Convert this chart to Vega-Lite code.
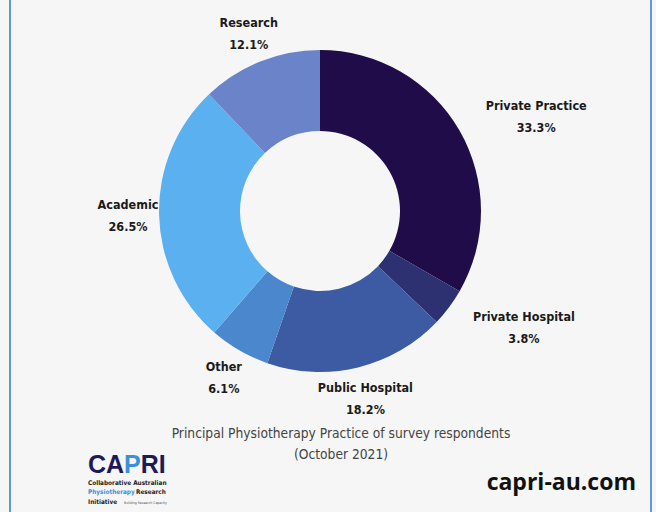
{
  "$schema": "https://vega.github.io/schema/vega-lite/v6.json",
  "width": 640,
  "height": 422,
  "autosize": {"type": "none"},
  "padding": {"left": 0, "top": 0, "right": 16, "bottom": 90},
  "background": "#f6f6f6",
  "config": {"view": {"stroke": null}},
  "layer": [
    {
      "data": {
        "values": [
          {"category": "Private Practice", "value": 33.3, "rank": 1},
          {"category": "Private Hospital", "value": 3.8, "rank": 2},
          {"category": "Public Hospital", "value": 18.2, "rank": 3},
          {"category": "Other", "value": 6.1, "rank": 4},
          {"category": "Academic", "value": 26.5, "rank": 5},
          {"category": "Research", "value": 12.1, "rank": 6}
        ]
      },
      "transform": [
        {"stack": "value", "groupby": [], "sort": [{"field": "rank", "order": "ascending"}], "as": ["v0", "v1"]},
        {"calculate": "(datum.v0 + datum.v1) / 2", "as": "mid"},
        {"calculate": "[datum.category, format(datum.value, '.1f') + '%']", "as": "label"}
      ],
      "layer": [
        {
          "mark": {"type": "arc", "innerRadius": 80, "outerRadius": 161},
          "encoding": {
            "theta": {"field": "v0", "type": "quantitative", "scale": {"domain": [0, 100]}},
            "theta2": {"field": "v1"},
            "color": {
              "field": "category",
              "type": "nominal",
              "legend": null,
              "scale": {
                "domain": ["Private Practice", "Private Hospital", "Public Hospital", "Other", "Academic", "Research"],
                "range": ["#1f0c48", "#2d3172", "#3d5ba3", "#4a87cc", "#5bb0ef", "#6a83c9"]
              }
            }
          }
        },
        {
          "transform": [{"filter": "datum.rank > 2"}],
          "mark": {"type": "text", "radius": 192, "align": "center", "baseline": "middle", "dy": -10, "lineHeight": 22, "fontSize": 12.5, "fontWeight": "bold", "font": "DejaVu Sans Condensed, sans-serif", "color": "#1a1a1a"},
          "encoding": {
            "theta": {"field": "mid", "type": "quantitative", "scale": {"domain": [0, 100]}},
            "text": {"field": "label"}
          }
        },
        {
          "transform": [{"filter": "datum.rank <= 2"}],
          "mark": {"type": "text", "radius": 192, "align": "center", "dx": 50, "dy": -9, "baseline": "middle", "lineHeight": 22, "fontSize": 12.5, "fontWeight": "bold", "font": "DejaVu Sans Condensed, sans-serif", "color": "#1a1a1a"},
          "encoding": {
            "theta": {"field": "mid", "type": "quantitative", "scale": {"domain": [0, 100]}},
            "text": {"field": "label"}
          }
        }
      ]
    },
    {
      "data": {"values": [{"t": ["Principal Physiotherapy Practice of survey respondents", "(October 2021)"]}]},
      "mark": {"type": "text", "x": {"expr": "width / 2 + 21"}, "y": {"expr": "height + 12"}, "align": "center", "baseline": "middle", "lineHeight": 21, "font": "DejaVu Sans Condensed, sans-serif", "fontSize": 13.7, "color": "#444444"},
      "encoding": {"text": {"field": "t"}}
    },
    {
      "data": {"values": [{"t": "capri-au.com"}]},
      "mark": {"type": "text", "x": {"expr": "width - 4"}, "y": {"expr": "height + 61"}, "align": "right", "baseline": "middle", "font": "Open Sans", "fontWeight": "bold", "fontSize": 23, "color": "#111111"},
      "encoding": {"text": {"field": "t"}}
    },
    {
      "data": {"values": [{"t": "CA"}]},
      "mark": {"type": "text", "x": 124, "y": {"expr": "height + 51"}, "align": "right", "baseline": "alphabetic", "font": "Liberation Sans", "fontWeight": "bold", "fontSize": 25, "color": "#1d1a5c"},
      "encoding": {"text": {"field": "t"}}
    },
    {
      "data": {"values": [{"t": "P"}]},
      "mark": {"type": "text", "x": 124, "y": {"expr": "height + 51"}, "align": "left", "baseline": "alphabetic", "font": "Liberation Sans", "fontWeight": "bold", "fontSize": 25, "color": "#3b8fdc"},
      "encoding": {"text": {"field": "t"}}
    },
    {
      "data": {"values": [{"t": "RI"}]},
      "mark": {"type": "text", "x": 140.7, "y": {"expr": "height + 51"}, "align": "left", "baseline": "alphabetic", "font": "Liberation Sans", "fontWeight": "bold", "fontSize": 25, "color": "#1d1a5c"},
      "encoding": {"text": {"field": "t"}}
    },
    {
      "data": {"values": [{"t": "Collaborative Australian"}]},
      "mark": {"type": "text", "x": 88, "y": {"expr": "height + 63"}, "align": "left", "baseline": "alphabetic", "font": "DejaVu Sans Condensed, sans-serif", "fontWeight": "bold", "fontSize": 6.4, "color": "#222222"},
      "encoding": {"text": {"field": "t"}}
    },
    {
      "data": {"values": [{"t": "Physiotherapy"}]},
      "mark": {"type": "text", "x": 88, "y": {"expr": "height + 72"}, "align": "left", "baseline": "alphabetic", "font": "DejaVu Sans Condensed, sans-serif", "fontWeight": "bold", "fontSize": 6.4, "color": "#3b8fdc"},
      "encoding": {"text": {"field": "t"}}
    },
    {
      "data": {"values": [{"t": "Research"}]},
      "mark": {"type": "text", "x": 136, "y": {"expr": "height + 72"}, "align": "left", "baseline": "alphabetic", "font": "DejaVu Sans Condensed, sans-serif", "fontWeight": "bold", "fontSize": 6.4, "color": "#222222"},
      "encoding": {"text": {"field": "t"}}
    },
    {
      "data": {"values": [{"t": "Initiative"}]},
      "mark": {"type": "text", "x": 88, "y": {"expr": "height + 82"}, "align": "left", "baseline": "alphabetic", "font": "DejaVu Sans Condensed, sans-serif", "fontWeight": "bold", "fontSize": 6.4, "color": "#222222"},
      "encoding": {"text": {"field": "t"}}
    },
    {
      "data": {"values": [{"t": "Building Research Capacity"}]},
      "mark": {"type": "text", "x": 124, "y": {"expr": "height + 82"}, "align": "left", "baseline": "alphabetic", "font": "DejaVu Sans Condensed, sans-serif", "fontSize": 3.5, "color": "#555555"},
      "encoding": {"text": {"field": "t"}}
    },
    {
      "data": {"values": [{"side": "left"}, {"side": "right"}]},
      "mark": {"type": "rule", "y": 0, "y2": {"expr": "height + 90"}, "color": "#5b9bd5", "strokeWidth": 2},
      "encoding": {
        "x": {"field": "side", "type": "nominal", "scale": {"type": "point", "domain": ["left", "right"], "range": [10, 651], "padding": 0}, "axis": null}
      }
    }
  ]
}
